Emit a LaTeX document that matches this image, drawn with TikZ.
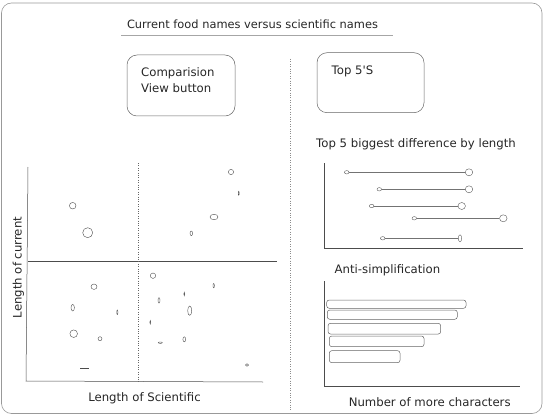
\documentclass[tikz,border=0pt]{standalone}
\usepackage{fontspec}
\setmainfont{DejaVu Sans}
\usetikzlibrary{positioning,shapes.geometric}

\tikzset{
  frame/.style={draw=black!40, rounded corners=10pt, line width=0.6pt},
  btn/.style={draw=black!60, rounded corners=10pt, line width=0.5pt},
  axis/.style={draw=black!70, line width=0.5pt},
  pt/.style={draw=black!70, line width=0.4pt},
  lbl/.style={font=\fontsize{11.7}{16}\selectfont, text=black!85, inner sep=0pt},
  dot/.style={ellipse, draw=black!65, inner sep=0pt, line width=0.4pt},
  bar/.style={draw=black!60, rounded corners=2.5pt, line width=0.5pt},
}

\begin{document}
\begin{tikzpicture}[x=1pt,y=-1pt]
  \useasboundingbox (0,0) rectangle (546,417);

  % Frame
  \draw[frame] (1.5,3) rectangle (542,413.5);

  % Title
  \node[lbl, font=\fontsize{11.4}{16}\selectfont] (title) at (252.5,24) {Current food names versus scientific names};
  \coordinate (ul) at (121,35);
  \coordinate (ur) at (393,35);
  \draw[black!35, line width=0.8pt] (ul) -- (ur);

  % Divider
  \coordinate (dtop) at (290,59);
  \coordinate (dbot) at (290,410);
  \draw[black!45, dotted] (dtop) -- (dbot);

  % Buttons
  \node[btn, minimum width=108pt, minimum height=61pt] (cmp) at (181,85.5) {};
  \node[lbl, align=left, anchor=north west] (cmptxt) at (141,67) {Comparision\\View button};
  \node[btn, minimum width=107pt, minimum height=60pt] (top) at (370.5,82.7) {};
  \node[lbl, anchor=north west] (toptxt) at (331.5,66) {Top 5\textquotesingle S};

  % Scatter axes
  \coordinate (O) at (26,381);
  \coordinate (yend) at (28,167);
  \coordinate (xend) at (263,382);
  \draw[axis] (yend) -- (O) -- (xend);
  \coordinate (ml) at (28,261);
  \coordinate (mr) at (277,261);
  \draw[axis] (ml) -- (mr);
  \coordinate (mt) at (138,163);
  \coordinate (mb) at (138,383);
  \draw[black!60, dotted] (mt) -- (mb);

  % Scatter points
  \foreach \x/\y/\a/\b in {72.7/205.7/3.3/3.3, 87.7/232.7/5/5, 231/172/2.6/2.6,
      238.7/193.3/0.5/2, 214/217/4/2.7, 191.3/233.3/1.3/2.3, 153/275.7/2.7/2.7,
      94/286.7/3/2.7, 213.7/285.7/0.7/2.2, 72.7/307.7/1.7/3.3, 117.3/312.3/0.6/2.3,
      159/300.3/1/2.7, 184.3/294/0.5/1.8, 189.7/310.7/2/4.7, 150.3/322.3/0.5/1.8,
      73.7/333.7/3.8/3.8, 100/338.7/2/2, 160.3/342.7/2/0.7, 184.3/339.3/1.4/2.5,
      247/365/1.6/1.3}
    \draw[pt] (\x,\y) ellipse (\a pt and \b pt);
  \coordinate (dl) at (80,368);
  \coordinate (dr) at (88.7,368);
  \draw[pt] (dl) -- (dr);

  \node[lbl] (xlab) at (144.5,398) {Length of Scientific};
  \node[lbl, rotate=90] (ylab) at (18.3,267.5) {Length of current};

  % Top 5 biggest difference
  \node[lbl] (difftitle) at (416,144) {Top 5 biggest difference by length};
  \coordinate (dO) at (324.3,248);
  \coordinate (dy) at (324.3,163);
  \coordinate (dx) at (523,248);
  \draw[axis] (dy) -- (dO) -- (dx);
  \foreach \i/\y/\a/\b/\w in {1/172.3/346.7/469/7.5, 2/189.3/379.3/469/7.5,
      3/206/371.7/461.7/7.5, 4/218.3/414.3/503.3/7.5, 5/238.3/382.7/460/3.4} {
    \node[dot, minimum width=4.6pt, minimum height=3.4pt] (s\i) at (\a,\y) {};
    \node[dot, minimum width=\w pt, minimum height=7pt] (b\i) at (\b,\y) {};
    \draw[black!55, line width=0.5pt] (s\i) -- (b\i);
  }

  % Anti-simplification
  \node[lbl] (antititle) at (387.5,270) {Anti-simplification};
  \coordinate (aO) at (324.3,386.7);
  \coordinate (ay) at (324.3,281);
  \coordinate (ax) at (520,386.7);
  \draw[axis] (ay) -- (aO) -- (ax);
  \foreach \xa/\ya/\xb/\yb in {326.7/300/466/308.3, 327.3/310/457.3/319.3,
      328/323.3/440.7/334, 329.3/336/424/346.7, 329.3/350.7/400/362.7}
    \draw[bar] (\xa,\ya) rectangle (\xb,\yb);
  \node[lbl] (alab) at (429.7,401.7) {Number of more characters};
\end{tikzpicture}
\end{document}
